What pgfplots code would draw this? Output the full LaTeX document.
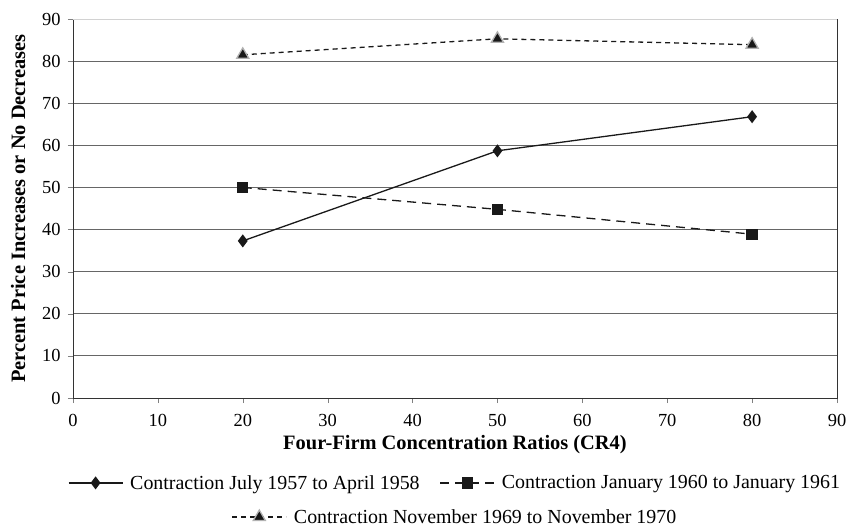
\documentclass[border=0pt]{standalone}
\usepackage{pgfplots}
\pgfplotsset{compat=1.18}
\usepackage{fontspec}
\setmainfont{Liberation Serif}
\begin{document}
\begin{tikzpicture}
\pgfplotsset{
  every axis/.append style={font=\fontsize{20}{24}\selectfont},
  legend image code/.code={%
    \draw[mark repeat=2,mark phase=2] plot coordinates {(0bp,0bp)(27bp,0bp)(54bp,0bp)};},
}
\begin{axis}[
  name=main,
  scale only axis,
  width=764bp, height=379bp,
  xmin=0, xmax=90, ymin=0, ymax=90,
  xtick={0,10,...,90}, ytick={0,10,...,90},
  tick align=outside, tick pos=left,
  major tick length=5bp,
  ymajorgrids, grid style={black!60, line width=0.9pt},
  axis line style={black!80, line width=1pt},
  /pgf/number format/assume math mode=true,
  tick label style={font=\fontsize{18.5}{22}\selectfont},
  xticklabel style={yshift=-8bp},
  yticklabel style={xshift=-4bp},
  xlabel={\textbf{Four-Firm Concentration Ratios (CR4)}},
  ylabel={\textbf{Percent Price Increases or No Decreases}},
  label style={font=\fontsize{20.5}{24}\selectfont},
  xlabel style={yshift=-2bp},
  ylabel style={yshift=10bp},
  legend columns=2,
  legend style={at={(0.5,-0.224)}, anchor=center, draw=none, fill=none,
    font=\fontsize{20}{24}\selectfont,
    /tikz/every odd column/.append style={column sep=5bp},
    /tikz/every even column/.append style={column sep=18bp}},
]
\addplot[black!90, line width=1.3pt, mark=diamond*, mark size=5.5pt,
  mark options={fill=black!90, solid}]
  coordinates {(20,37.3) (50,58.7) (80,66.8)};
\addlegendentry{Contraction July 1957 to April 1958}
\addplot[black!90, line width=1.3pt, dash pattern=on 9bp off 6bp, mark=square*, mark size=5pt,
  mark options={fill=black!90, solid}]
  coordinates {(20,50.0) (50,44.8) (80,38.9)};
\addlegendentry{Contraction January 1960 to January 1961}
\addplot[black!90, line width=1.3pt, dash pattern=on 5bp off 4bp, mark=triangle*, mark size=7pt,
  mark options={fill=black!90, draw=gray!60, solid}, forget plot]
  coordinates {(20,81.5) (50,85.3) (80,83.9)};
\draw[gray!35, line width=1pt] (rel axis cs:0,1) -- (rel axis cs:1,1);
\end{axis}
\begin{axis}[
  scale only axis,
  width=764bp, height=379bp,
  hide axis,
  xmin=0, xmax=1, ymin=0, ymax=1,
  legend style={at={(0.5,-0.314)}, anchor=center, draw=none, fill=none,
    font=\fontsize{20}{24}\selectfont,
    /tikz/every odd column/.append style={column sep=5bp}},
]
\addlegendimage{black!90, line width=1.3pt, dash pattern=on 5bp off 4bp, mark=triangle*, mark size=7pt,
  mark options={fill=black!90, draw=gray!60, solid}}
\addlegendentry{Contraction November 1969 to November 1970}
\end{axis}
\pgfresetboundingbox
\path (main.south west) ++(-73bp,-129bp) rectangle ++(848bp,527bp);
\end{tikzpicture}
\end{document}
